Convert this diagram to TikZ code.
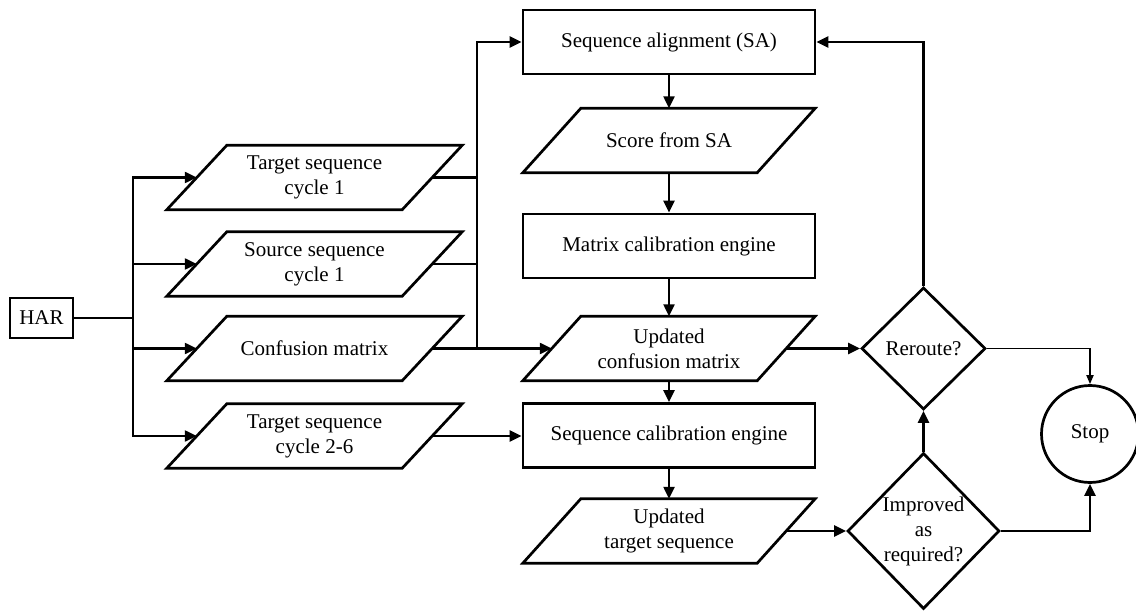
\documentclass[tikz,border=0pt]{standalone}
\usepackage{fontspec}
\setmainfont{Liberation Serif}
\usetikzlibrary{shapes.geometric,arrows.meta,calc}

\tikzset{
  txt/.style={font=\fontsize{21bp}{25bp}\selectfont, align=center, inner sep=0pt},
  outline/.style={line width=2.7bp, line join=miter},
  procbox/.style={txt, draw, outline, minimum width=292bp, minimum height=64bp},
  iobox/.style={txt, minimum width=#1, minimum height=64bp},
  decision/.style={diamond, draw, outline, inner sep=0pt},
  conn/.style={line width=2.3bp},
  arr/.style={conn, -{Triangle[length=12bp,width=11bp]}},
  thinarr/.style={line width=1.8bp, -{Triangle[length=9bp,width=7bp]}},
}

% parallelogram drawn on the frame of a text node: #1 node, #2 slant
\newcommand\drawio[2]{%
  \draw[outline] (#1.south west) -- ([xshift=#2]#1.north west)
    -- (#1.north east) -- ([xshift=-#2]#1.south east) -- cycle;}

\begin{document}
\begin{tikzpicture}[x=1bp,y=-1bp]
\useasboundingbox (0,0) rectangle (1136,611);

% input side
\node[txt, draw, outline, minimum width=63bp, minimum height=40bp] (har) at (41.5,318) {HAR};

\node[iobox=295bp] (t1) at (314.5,177.5) {Target sequence\\cycle 1};
\node[iobox=295bp] (s1) at (314.5,264) {Source sequence\\cycle 1};
\node[iobox=295bp] (cm) at (314.5,348.5) {Confusion matrix};
\node[iobox=295bp] (t2) at (314.5,436) {Target sequence\\cycle 2-6};
\foreach \n in {t1,s1,cm,t2}{
  \drawio{\n}{60bp}
  \coordinate (\n w) at ([xshift=30bp]\n.west);
  \coordinate (\n e) at ([xshift=-30bp]\n.east);
}

% central column
\node[procbox] (sa) at (669,42) {Sequence alignment (SA)};
\node[iobox=292bp] (score) at (669,140.5) {Score from SA};
\node[procbox] (mce) at (669,246) {Matrix calibration engine};
\node[iobox=292bp] (ucm) at (669,348.5) {Updated\\confusion matrix};
\node[procbox] (sce) at (669,435.5) {Sequence calibration engine};
\node[iobox=292bp] (uts) at (669,531) {Updated\\target sequence};
\foreach \n in {score,ucm,uts}{
  \drawio{\n}{58bp}
  \coordinate (\n w) at ([xshift=29bp]\n.west);
  \coordinate (\n e) at ([xshift=-29bp]\n.east);
}

% decisions and end
\node[decision, minimum width=124bp, minimum height=122bp,
      label={[txt]center:Reroute?}] (rr) at (923.5,348.5) {};
\node[decision, minimum width=152bp, minimum height=156bp,
      label={[txt]center:Improved\\as\\required?}] (imp) at (923.5,531) {};
\node[txt, circle, draw, outline, minimum size=97bp] (stop) at (1090,434) {Stop};

% fan-out from HAR
\coordinate (br) at (133,318);
\draw[conn] (har.east) -- (br);
\foreach \n in {t1,s1,cm,t2}{ \draw[arr] (br) |- (\n w); }

% inputs gathered towards the alignment
\coordinate (jn) at (477,348.5);
\draw[conn] (t1e) -- (t1e -| jn);
\draw[conn] (s1e) -- (s1e -| jn);
\draw[arr] (jn) |- (sa.west);
\draw[arr] (cme) -- (ucmw);
\draw[arr] (t2e) -- (t2e -| sce.west);

% main column
\draw[arr] (sa.south) -- (score.north);
\draw[arr] (score.south) -- (mce.north);
\draw[arr] (mce.south) -- (ucm.north);
\draw[arr] (ucm.south) -- (sce.north);
\draw[arr] (sce.south) -- (uts.north);

% decisions
\draw[arr] (ucme) -- (rr.west);
\draw[arr] (utse) -- (imp.west);
\draw[arr] (rr.north) |- (sa.east);
\draw[arr] (imp.north) -- (rr.south);
\draw[thinarr] (rr.east) -| (stop.north);
\draw[arr] (imp.east) -| (stop.south);
\end{tikzpicture}
\end{document}
